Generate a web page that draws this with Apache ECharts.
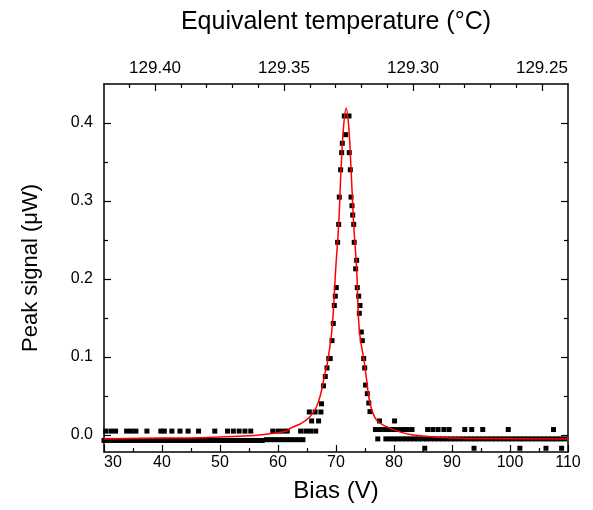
<!DOCTYPE html>
<html>
<head>
<meta charset="utf-8">
<script src="https://cdn.jsdelivr.net/npm/echarts@6/dist/echarts.min.js"></script>
<style>
  html, body { margin: 0; background: #fff; }
  #chart { width: 593px; height: 510px; }
</style>
</head>
<body>
<div id="chart"></div>
<script>
// --- data ---
// measured points, [bias V, peak signal uW]
var lowBandLeft = [
  [30, -0.007], [30.7, -0.007], [31.4, -0.007], [32.1, -0.007], [32.8, -0.007], [33.5, -0.007],
  [34.2, -0.007], [34.9, -0.007], [35.6, -0.007], [36.3, -0.007], [37, -0.007], [37.7, -0.007],
  [38.4, -0.007], [39.1, -0.007], [39.8, -0.007], [40.5, -0.007], [41.2, -0.007], [41.9, -0.007],
  [42.6, -0.007], [43.3, -0.007], [44, -0.007], [44.7, -0.007], [45.4, -0.007], [46.1, -0.007],
  [46.8, -0.007], [47.5, -0.007], [48.2, -0.007], [48.9, -0.007], [49.6, -0.007], [50.3, -0.007],
  [51, -0.007], [51.7, -0.007], [52.4, -0.007], [53.1, -0.007], [53.8, -0.007], [54.5, -0.007],
  [55.2, -0.007], [55.9, -0.007], [56.6, -0.007], [57.3, -0.007], [58, -0.006], [58.7, -0.006],
  [59.4, -0.006], [60.1, -0.006], [60.8, -0.006], [61.5, -0.006], [62.2, -0.006], [62.9, -0.006],
  [63.6, -0.006], [64.3, -0.006]
];
var highBandLeft = [
  [30.3, 0.005], [31.2, 0.005], [32.0, 0.005], [33.9, 0.005], [34.7, 0.005], [35.5, 0.005],
  [37.4, 0.005], [39.8, 0.005], [40.4, 0.005], [41.7, 0.005], [43.1, 0.005], [44.5, 0.005],
  [46.3, 0.005], [49.1, 0.005], [51.3, 0.005], [52.3, 0.005], [53.3, 0.005], [54.3, 0.005],
  [55.3, 0.005], [59.1, 0.005], [60.0, 0.005], [60.8, 0.005], [61.6, 0.005], [63.9, 0.005],
  [64.8, 0.005], [65.6, 0.005], [66.5, 0.005]
];
var peakPoints = [
  [65.4, 0.0295], [66.4, 0.0295], [67.4, 0.0295], [65.8, 0.018], [67.0, 0.018],
  [67.5, 0.040], [67.85, 0.063], [68.15, 0.075], [68.45, 0.086], [68.75, 0.098], [69.0, 0.098],
  [69.31, 0.121], [69.53, 0.143], [69.71, 0.166], [69.88, 0.178], [70.05, 0.189], [70.28, 0.247],
  [70.46, 0.270], [70.57, 0.305], [70.8, 0.340], [70.98, 0.362], [71.09, 0.374], [71.43, 0.409],
  [71.67, 0.385], [72.24, 0.409], [72.29, 0.362], [72.47, 0.340], [72.59, 0.305], [72.76, 0.294],
  [72.88, 0.282], [73.05, 0.270], [73.14, 0.247], [73.39, 0.213], [73.56, 0.224], [73.67, 0.189],
  [73.91, 0.178], [74.02, 0.156], [74.14, 0.166], [74.36, 0.132], [74.53, 0.121], [74.77, 0.098],
  [74.95, 0.086], [75.1, 0.064], [75.4, 0.053], [75.65, 0.041], [75.86, 0.030],
  [77.5, 0.018], [80.1, 0.018]
];
var highBandRight = [
  [76.8, 0.007], [77.6, 0.007], [78.4, 0.007], [79.2, 0.007], [80.0, 0.007], [80.8, 0.007],
  [81.6, 0.007], [82.3, 0.007], [83.1, 0.007], [85.8, 0.007], [86.7, 0.007], [87.6, 0.007],
  [88.6, 0.007], [89.5, 0.007], [92.2, 0.007], [93.4, 0.007], [95.3, 0.007], [99.7, 0.007],
  [107.5, 0.007]
];
var lowBandRight = [
  [77.2, -0.005], [78.6, -0.005], [79.3, -0.005], [80.0, -0.005], [80.7, -0.005], [81.4, -0.005],
  [82.1, -0.005], [82.8, -0.005], [83.5, -0.005], [84.2, -0.005], [84.9, -0.005], [85.6, -0.005],
  [86.3, -0.005], [87.0, -0.005], [87.7, -0.005], [88.4, -0.005], [89.1, -0.005], [89.8, -0.005],
  [90.5, -0.005], [91.2, -0.005], [91.9, -0.005], [92.6, -0.005], [93.3, -0.005], [94.0, -0.005],
  [94.7, -0.005], [95.4, -0.005], [96.1, -0.005], [96.8, -0.005], [97.5, -0.005], [98.2, -0.005],
  [98.9, -0.005], [99.6, -0.005], [100.3, -0.005], [101.0, -0.005], [101.7, -0.005], [102.4, -0.005],
  [103.1, -0.005], [103.8, -0.005], [104.5, -0.005], [105.2, -0.005], [105.9, -0.005], [106.6, -0.005],
  [107.3, -0.005], [108.0, -0.005], [108.7, -0.005], [109.4, -0.005]
];
var dipPoints = [[85.3, -0.017], [93.8, -0.017], [101.7, -0.017], [106.2, -0.017], [108.9, -0.017]];

// red fit line
var fitBias = [30, 40, 46.6, 55.2, 58.6, 61.5, 62.1, 64, 65.5, 66.5, 67.24, 68.1, 68.5, 69.3, 69.95,
  70.46, 70.87, 71.3, 71.75, 72.2, 72.6, 73.05, 73.56, 74.02, 74.9, 75.28, 75.86, 77.0, 78.7, 81,
  83.3, 89.1, 95, 110];
var fitSignal = [-0.005, -0.004, -0.0035, -0.001, 0.0015, 0.005, 0.0085, 0.015, 0.0235, 0.034, 0.049,
  0.079, 0.092, 0.135, 0.213, 0.270, 0.340, 0.395, 0.419, 0.395, 0.340, 0.270, 0.213, 0.135, 0.092,
  0.0705, 0.0406, 0.019, 0.0107, 0.004, 0.000, -0.0035, -0.0045, -0.005];

// axis ticks
var yMajor = [0, 0.1, 0.2, 0.3, 0.4];
var yMinor = [0.05, 0.15, 0.25, 0.35];
var tempMajor = [129.40, 129.35, 129.30, 129.25];
var tempMinor = [129.41, 129.39, 129.38, 129.37, 129.36, 129.34, 129.33, 129.32, 129.31,
  129.29, 129.28, 129.27, 129.26];

var Y_MIN = -0.0218, Y_MAX = 0.45;
var T_LEFT = 129.4198, T_RIGHT = 129.2399;   // temperature at bias 30 and 110
var FONT = 'Liberation Sans, Arial, sans-serif';

var dom = document.getElementById('chart');
var myChart = echarts.init(dom);

var lineStyleBlack = { color: '#000', width: 1.5 };
var tickStyle = { color: '#000', width: 1.2 };

function neg(arr) { return arr.map(function (v) { return -v; }); }

function yAxisDef(pos, ticks, len, withLine, withLabel) {
  return {
    type: 'value', position: pos, min: Y_MIN, max: Y_MAX,
    axisLine: { show: withLine, onZero: false, lineStyle: lineStyleBlack },
    axisTick: { show: true, inside: true, length: len, customValues: ticks, lineStyle: tickStyle },
    axisLabel: withLabel ? {
      show: true, customValues: ticks, margin: 11, color: '#000', fontSize: 16, fontFamily: FONT,
      formatter: function (v) { return v.toFixed(1); }
    } : { show: false },
    splitLine: { show: false }
  };
}

// temperature falls left to right, so the top axis runs on -T
function tempAxisDef(ticks, len, withLine, withLabel) {
  return {
    type: 'value', position: 'top', min: -T_LEFT, max: -T_RIGHT,
    axisLine: { show: withLine, onZero: false, lineStyle: lineStyleBlack },
    axisTick: { show: true, inside: true, length: len, customValues: neg(ticks), lineStyle: tickStyle },
    axisLabel: withLabel ? {
      show: true, customValues: neg(ticks), margin: 7, color: '#000', fontSize: 17, fontFamily: FONT,
      formatter: function (v) { return (-v).toFixed(2); }
    } : { show: false },
    splitLine: { show: false }
  };
}

var yLeft = yAxisDef('left', yMajor, 7, true, true);
yLeft.name = 'Peak signal (\u03bcW)';
yLeft.nameLocation = 'middle';
yLeft.nameGap = 62;
yLeft.nameTextStyle = { color: '#000', fontSize: 22, fontFamily: FONT };

var tempTop = tempAxisDef(tempMajor, 7, true, true);
tempTop.name = 'Equivalent temperature (\u00b0C)';
tempTop.nameLocation = 'middle';
tempTop.nameGap = 49;
tempTop.nameTextStyle = { color: '#000', fontSize: 25, fontFamily: FONT };

var scatterStyle = {
  type: 'scatter', symbol: 'rect', symbolSize: 5,
  itemStyle: { color: '#000', opacity: 1 }, xAxisIndex: 0, yAxisIndex: 0, z: 2, silent: true
};

function scatterSeries(name, data) {
  return Object.assign({ name: name, data: data }, scatterStyle);
}

var fitData = [];
for (var i = 0; i < fitBias.length; i++) {
  fitData.push([fitBias[i], fitSignal[i]]);
}

var option = {
  backgroundColor: '#fff',
  animation: false,
  grid: { left: 104, right: 25, top: 84, bottom: 58, outerBoundsMode: 'none' },
  xAxis: [
    {
      type: 'value', position: 'bottom', min: 30, max: 110, interval: 10,
      name: 'Bias (V)', nameLocation: 'middle', nameGap: 27,
      nameTextStyle: { color: '#000', fontSize: 24, fontFamily: FONT },
      axisLine: { show: true, onZero: false, lineStyle: lineStyleBlack },
      axisTick: { show: true, inside: true, length: 7, lineStyle: tickStyle },
      minorTick: { show: true, splitNumber: 2, length: 4, lineStyle: tickStyle },
      axisLabel: { color: '#000', fontSize: 16, fontFamily: FONT, margin: 3, alignMinLabel: 'left' },
      splitLine: { show: false }
    },
    tempTop,
    tempAxisDef(tempMinor, 4, false, false)
  ],
  yAxis: [
    yLeft,
    yAxisDef('left', yMinor, 4, false, false),
    yAxisDef('right', yMajor, 7, true, false),
    yAxisDef('right', yMinor, 4, false, false)
  ],
  series: [
    scatterSeries('low left', lowBandLeft),
    scatterSeries('high left', highBandLeft),
    scatterSeries('peak', peakPoints),
    scatterSeries('high right', highBandRight),
    scatterSeries('low right', lowBandRight),
    scatterSeries('dips', dipPoints),
    {
      name: 'fit', type: 'line', data: fitData, xAxisIndex: 0, yAxisIndex: 0,
      smooth: 0.4, showSymbol: false, z: 5, silent: true,
      lineStyle: { color: '#ff0000', width: 1.5 }
    }
  ]
};
myChart.setOption(option);
</script>
</body>
</html>
